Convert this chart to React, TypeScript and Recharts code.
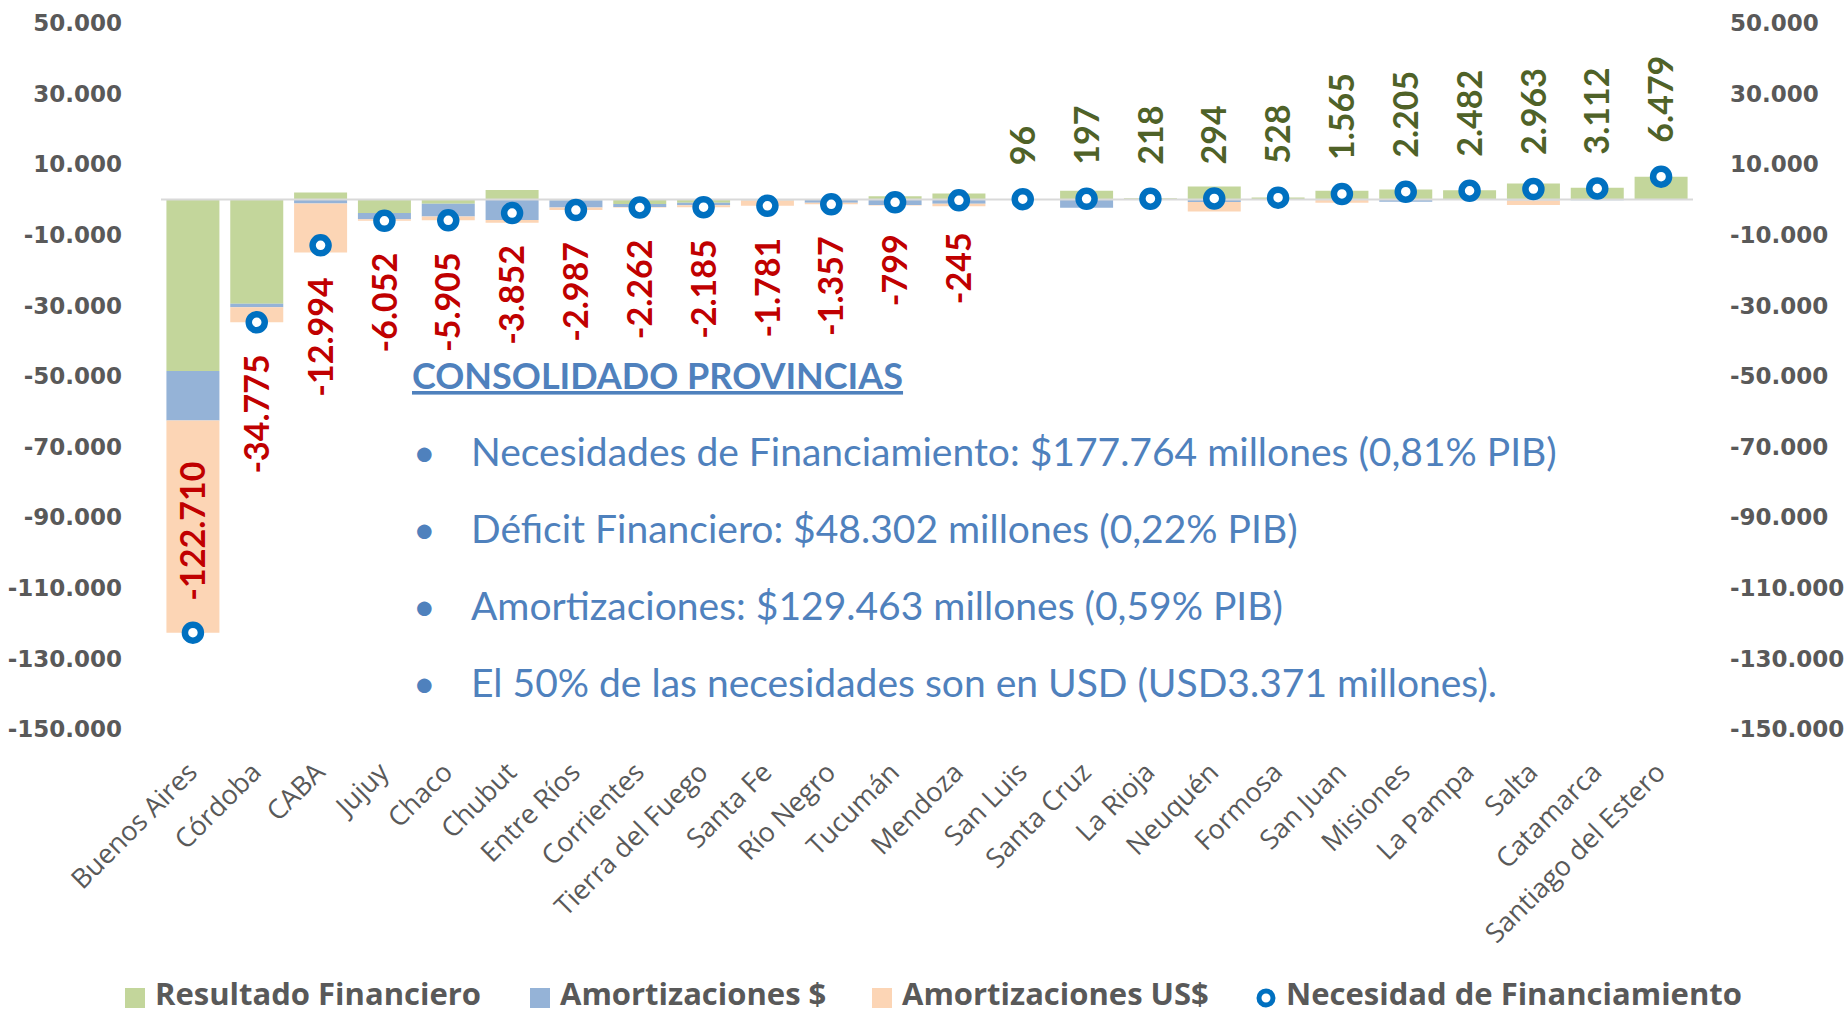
import React from "react";
import {
  ComposedChart, Bar, Line, XAxis, YAxis, ReferenceLine, LabelList,
} from "recharts";

// provinces, sorted by financing need
const provincias = [
  "Buenos Aires", "Córdoba", "CABA", "Jujuy", "Chaco", "Chubut", "Entre Ríos",
  "Corrientes", "Tierra del Fuego", "Santa Fe", "Río Negro", "Tucumán", "Mendoza",
  "San Luis", "Santa Cruz", "La Rioja", "Neuquén", "Formosa", "San Juan",
  "Misiones", "La Pampa", "Salta", "Catamarca", "Santiago del Estero",
];

const resultadoFinanciero = [
  -48600, -29500, 2000, -3800, -1200, 2700, -200, -1300, -900, -200, -107, 900,
  1700, 96, 2500, 350, 3700, 600, 2500, 2850, 2600, 4500, 3300, 6479,
];
const amortizacionesPesos = [
  -14000, -1000, -1100, -1800, -3650, -5800, -2050, -800, -750, -100, -800, -1550,
  -1200, 0, -2303, -80, -700, -40, -100, -645, -118, -300, -188, 0,
];
const amortizacionesUsd = [
  -60110, -4275, -13894, -452, -1055, -752, -737, -162, -535, -1481, -450, -149,
  -745, 0, 0, -52, -2706, -32, -835, 0, 0, -1237, 0, 0,
];
const necesidad = [
  -122710, -34775, -12994, -6052, -5905, -3852, -2987, -2262, -2185, -1781, -1357,
  -799, -245, 96, 197, 218, 294, 528, 1565, 2205, 2482, 2963, 3112, 6479,
];

const yTicks = [50000, 30000, 10000, -10000, -30000, -50000, -70000, -90000, -110000, -130000, -150000];

const bullets = [
  "Necesidades de Financiamiento: $177.764 millones (0,81% PIB)",
  "Déficit Financiero: $48.302 millones (0,22% PIB)",
  "Amortizaciones: $129.463 millones (0,59% PIB)",
  "El 50% de las necesidades son en USD (USD3.371 millones).",
];

const data = provincias.map((p, i) => ({
  provincia: p,
  resultado: resultadoFinanciero[i],
  amortPesos: amortizacionesPesos[i],
  amortUsd: amortizacionesUsd[i],
  necesidad: necesidad[i],
}));

const W = 1847;
const H = 1015;
const TOP = 23;
const BOTTOM = 286;
const PLOT_BOTTOM = H - BOTTOM;

const GREEN = "#C3D69B";
const BLUE = "#95B3D7";
const PEACH = "#FCD5B5";
const DOT = "#0070C0";
const GRAY = "#595959";
const TEXT_BLUE = "#4F81BD";

// 1234567 -> "1.234.567"
function fmt(v: number) {
  const s = Math.abs(Math.round(v)).toString().replace(/\B(?=(\d{3})+(?!\d))/g, ".");
  return (v < 0 ? "-" : "") + s;
}

const axisTick = { fontFamily: "DejaVu Sans", fontWeight: 700, fontSize: 23, fill: GRAY };

function CategoryTick(props: any) {
  const { x, y, payload } = props;
  const ax = x + 6;
  const ay = y + 45;
  return (
    <text
      x={ax}
      y={ay}
      textAnchor="end"
      transform={`rotate(-45 ${ax} ${ay})`}
      fontFamily="Open Sans"
      fontSize={27}
      fill={GRAY}
    >
      {payload.value}
    </text>
  );
}

function NecesidadLabel(props: any) {
  const { x, y, value } = props;
  const v = Number(value);
  const txt = fmt(v);
  const approxLen = txt.length * 17;
  let ay: number;
  let anchor: "start" | "end";
  if (v >= 0) {
    ay = y - 34;
    anchor = "start";
  } else if (y + 30 + approxLen > PLOT_BOTTOM) {
    // no room below: put it above the point
    ay = y - 32;
    anchor = "start";
  } else {
    ay = y + 32;
    anchor = "end";
  }
  return (
    <text
      x={x}
      y={ay}
      dy="0.36em"
      textAnchor={anchor}
      transform={`rotate(-90 ${x} ${ay})`}
      fontFamily="Lato"
      fontWeight={700}
      fontSize={34}
      fill={v < 0 ? "#C00000" : "#4F6228"}
    >
      {txt}
    </text>
  );
}

const legendItems = [
  { label: "Resultado Financiero", color: GREEN, x: 125, kind: "rect" },
  { label: "Amortizaciones $", color: BLUE, x: 530, kind: "rect" },
  { label: "Amortizaciones US$", color: PEACH, x: 872, kind: "rect" },
  { label: "Necesidad de Financiamiento", color: DOT, x: 1258, kind: "dot" },
];

export default function App() {
  return (
    <div style={{ position: "absolute", left: 0, top: 0, width: W, height: H }}>
      <ComposedChart
        width={W}
        height={H}
        data={data}
        stackOffset="sign"
        barCategoryGap="8.5%"
        margin={{ top: TOP, right: 0, bottom: BOTTOM - 240, left: 0 }}
      >
        <XAxis
          dataKey="provincia"
          height={240}
          interval={0}
          axisLine={false}
          tickLine={false}
          tickSize={0}
          tickMargin={0}
          tick={<CategoryTick />}
        />
        <YAxis
          yAxisId="left"
          width={161}
          domain={[-150000, 50000]}
          ticks={yTicks}
          interval={0}
          axisLine={false}
          tickLine={false}
          tickSize={0}
          tickMargin={39}
          tick={axisTick}
          tickFormatter={fmt}
        />
        <YAxis
          yAxisId="right"
          orientation="right"
          width={154}
          domain={[-150000, 50000]}
          ticks={yTicks}
          interval={0}
          axisLine={false}
          tickLine={false}
          tickSize={0}
          tickMargin={37}
          tick={{ ...axisTick, textAnchor: "start" }}
          tickFormatter={fmt}
        />
        <ReferenceLine yAxisId="left" y={0} stroke="#D9D9D9" strokeWidth={2} />
        <Bar yAxisId="left" dataKey="resultado" stackId="a" fill={GREEN} isAnimationActive={false} />
        <Bar yAxisId="left" dataKey="amortPesos" stackId="a" fill={BLUE} isAnimationActive={false} />
        <Bar yAxisId="left" dataKey="amortUsd" stackId="a" fill={PEACH} isAnimationActive={false} />
        <Line
          yAxisId="right"
          dataKey="necesidad"
          stroke="none"
          dot={{ r: 8, fill: "#fff", stroke: DOT, strokeWidth: 6.5 }}
          activeDot={false}
          isAnimationActive={false}
        >
          <LabelList dataKey="necesidad" content={<NecesidadLabel />} />
        </Line>
      </ComposedChart>

      <svg
        width={W}
        height={H}
        style={{ position: "absolute", left: 0, top: 0, pointerEvents: "none" }}
      >
        <text
          x={412}
          y={389}
          fontFamily="Lato"
          fontWeight={700}
          fontSize={36}
          fill={TEXT_BLUE}
          textDecoration="underline"
        >
          CONSOLIDADO PROVINCIAS
        </text>
        {bullets.map((b, i) => (
          <g key={i} fontFamily="Lato" fontSize={39} fill={TEXT_BLUE}>
            <text x={413} y={466 + i * 77}>•</text>
            <text x={471} y={466 + i * 77}>{b}</text>
          </g>
        ))}
        {legendItems.map((it) => (
          <g key={it.label}>
            {it.kind === "rect" ? (
              <rect x={it.x} y={988} width={20} height={20} fill={it.color} />
            ) : (
              <circle cx={it.x + 8} cy={998} r={7} fill="#fff" stroke={it.color} strokeWidth={5} />
            )}
            <text
              x={it.x + (it.kind === "rect" ? 30 : 28)}
              y={1005}
              fontFamily="Open Sans"
              fontWeight={700}
              fontSize={31}
              fill={GRAY}
            >
              {it.label}
            </text>
          </g>
        ))}
      </svg>
    </div>
  );
}
